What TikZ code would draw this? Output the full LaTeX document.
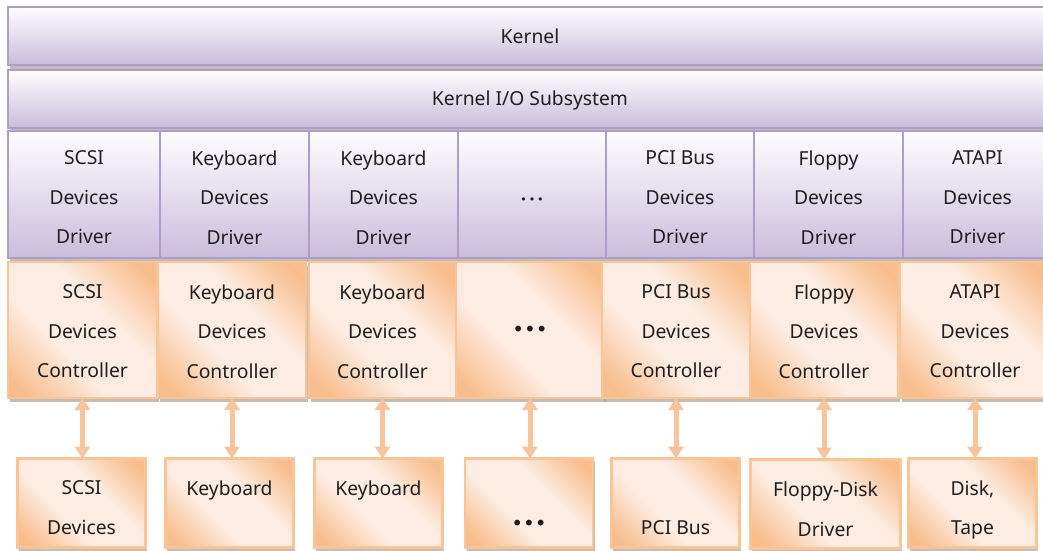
\documentclass[tikz,border=0pt]{standalone}
\usepackage{fontspec}
\setmainfont{Noto Sans}
\newfontfamily\dejavu{DejaVu Sans}
\usetikzlibrary{arrows.meta,shadows}
\definecolor{pb}{HTML}{AC9DCB}
\definecolor{ptop}{HTML}{FEFDFF}
\definecolor{pbot}{HTML}{C9BDDC}
\definecolor{ob}{HTML}{F9C597}
\definecolor{olt}{HTML}{FDECE1}
\definecolor{odk}{HTML}{F8BD8C}
\definecolor{shc}{HTML}{A09080}
\definecolor{arrc}{HTML}{F8C49C}
\definecolor{txt}{HTML}{1E1E1E}
\pgfdeclarehorizontalshading{peach}{100bp}{color(0bp)=(odk);color(20bp)=(odk);color(40bp)=(olt);color(60bp)=(olt);color(80bp)=(odk);color(100bp)=(odk)}
\begin{document}
\begin{tikzpicture}[x=1pt,y=-1pt,
  base/.style={inner sep=0pt, outer sep=0pt, line width=2.5pt,
     drop shadow={shadow xshift=1.5pt, shadow yshift=-3.5pt, fill=shc, opacity=0.6}},
  lbl/.style={inner sep=0pt, align=center, text=txt, font=\fontsize{19.3}{39.5}\selectfont},
  pbox/.style={base, draw=pb, top color=ptop, bottom color=pbot},
  obox/.style={base, draw=ob, shade, shading=peach, shading angle=45},
  drv/.style={pbox, minimum height=127pt},
  ctl/.style={obox, minimum height=136pt},
  dev/.style={obox, minimum height=89pt, minimum width=128pt},
  arr/.style={line width=5pt, draw=arrc, {Triangle[width=15pt,length=12pt]}-{Triangle[width=15pt,length=12pt]}}
]
\useasboundingbox (0,0) rectangle (1043,550);
\fill[white] (0,0) rectangle (1043,550);
% kernel layers
\node[pbox, minimum width=1044pt, minimum height=58pt,
  label={[lbl, yshift=-0.5pt]center:Kernel}] (kernel) at (530,36) {};
\node[pbox, minimum width=1044pt, minimum height=58pt,
  label={[lbl, yshift=-1.5pt]center:Kernel I/O Subsystem}] (kio) at (530,99) {};
% drivers
\node[drv, minimum width=152pt, label={[lbl, yshift=-3pt]center:SCSI\\Devices\\Driver}] (d1) at (84,194.5) {};
\node[drv, minimum width=149pt, label={[lbl, yshift=-3pt]center:Keyboard\\Devices\\Driver}] (d2) at (234.5,194.5) {};
\node[drv, minimum width=149pt, label={[lbl, yshift=-3pt]center:Keyboard\\Devices\\Driver}] (d3) at (383.5,194.5) {};
\node[drv, minimum width=148pt, label={[lbl, yshift=-6.5pt]center:{\dejavu\fontsize{11}{12}\selectfont\textbullet\,\textbullet\,\textbullet}}] (d4) at (532,194.5) {};
\node[drv, minimum width=148pt, label={[lbl, yshift=-3pt]center:PCI Bus\\Devices\\Driver}] (d5) at (680,194.5) {};
\node[drv, minimum width=149pt, label={[lbl, yshift=-3pt]center:Floppy\\Devices\\Driver}] (d6) at (828.5,194.5) {};
\node[drv, minimum width=149pt, label={[lbl, yshift=-3pt]center:ATAPI\\Devices\\Driver}] (d7) at (977.5,194.5) {};
% controllers
\node[ctl, minimum width=149pt, label={[lbl, yshift=-1.5pt]center:SCSI\\Devices\\Controller}] (c1) at (82.5,330) {};
\node[ctl, minimum width=148pt, label={[lbl, yshift=-1.5pt]center:Keyboard\\Devices\\Controller}] (c2) at (232,330) {};
\node[ctl, minimum width=147pt, label={[lbl, yshift=-1.5pt]center:Keyboard\\Devices\\Controller}] (c3) at (382.5,330) {};
\node[ctl, minimum width=148pt, label={[lbl, yshift=-1.5pt]center:{\dejavu\fontsize{20}{20}\selectfont\textbullet\textbullet\textbullet}}] (c4) at (530,330) {};
\node[ctl, minimum width=148pt, label={[lbl, yshift=-1.5pt]center:PCI Bus\\Devices\\Controller}] (c5) at (676,330) {};
\node[ctl, minimum width=148pt, label={[lbl, yshift=-1.5pt]center:Floppy\\Devices\\Controller}] (c6) at (824,330) {};
\node[ctl, minimum width=150pt, label={[lbl, yshift=-1.5pt]center:ATAPI\\Devices\\Controller}] (c7) at (975,330) {};
% devices
\node[dev, label={[lbl, yshift=-4.5pt]center:SCSI\\Devices}] (e1) at (81.5,503) {};
\node[dev, label={[lbl, yshift=-4.5pt]center:Keyboard\\\vphantom{Devices}}] (e2) at (229.5,503) {};
\node[dev, label={[lbl, yshift=-4.5pt]center:Keyboard\\\vphantom{Devices}}] (e3) at (378.5,503) {};
\node[dev, label={[lbl, yshift=-0.5pt]center:\vphantom{SCSI}\\{\dejavu\fontsize{20}{20}\selectfont\textbullet\textbullet\textbullet}}] (e4) at (529,503) {};
\node[dev, label={[lbl, yshift=-4.5pt]center:\vphantom{SCSI}\\PCI Bus}] (e5) at (675.5,503) {};
\node[dev, minimum width=150pt, label={[lbl, yshift=-5pt]center:Floppy-Disk\\Driver}] (e6) at (825.5,504) {};
\node[dev, label={[lbl, yshift=-7pt]center:Disk,\\Tape}] (e7) at (972.5,503) {};
% arrows
\foreach \i in {1,...,7}{
  \draw[arr] (c\i.south) -- (c\i.south |- e\i.north);
}
\end{tikzpicture}
\end{document}
